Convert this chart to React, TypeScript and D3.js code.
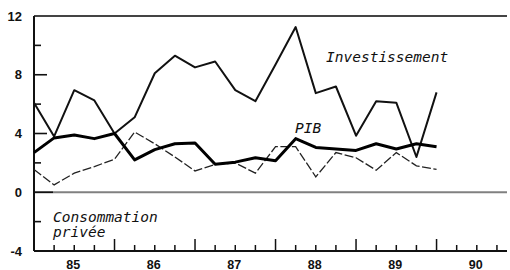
import React from "react";
import * as d3 from "d3";

const quarters: number[] = [
  1985, 1985.25, 1985.5, 1985.75, 1986, 1986.25, 1986.5, 1986.75,
  1987, 1987.25, 1987.5, 1987.75, 1988, 1988.25, 1988.5, 1988.75,
  1989, 1989.25, 1989.5, 1989.75, 1990,
];
const investissement: number[] = [
  6.1, 3.8, 6.95, 6.25, 4.0, 5.1, 8.1, 9.3, 8.5, 8.9, 6.95,
  6.2, 8.7, 11.25, 6.75, 7.2, 3.85, 6.2, 6.1, 2.4, 6.8,
];
const pib: number[] = [
  2.7, 3.7, 3.9, 3.65, 4.0, 2.2, 2.9, 3.3, 3.35, 1.9, 2.05,
  2.35, 2.15, 3.65, 3.05, 2.95, 2.85, 3.3, 2.95, 3.3, 3.1,
];
const consommation: number[] = [
  1.55, 0.5, 1.3, 1.75, 2.25, 4.1, 3.3, 2.4, 1.45, 1.9, 2.0,
  1.3, 3.1, 3.1, 1.05, 2.7, 2.35, 1.5, 2.7, 1.8, 1.55,
];
const yMajorTicks: number[] = [12, 8, 4, 0, -4];
const yMinorTicks: number[] = [10, 6, 2, -2];
const yearLabels: string[] = ["85", "86", "87", "88", "89", "90"];
const years: number[] = [1985, 1986, 1987, 1988, 1989, 1990];

export default function App() {
  const x = d3.scaleLinear().domain([1985, 1990.875]).range([34, 507]);
  const y = d3.scaleLinear().domain([-4, 12]).range([251, 16]);
  const line = (vals: number[]) =>
    d3
      .line<number>()
      .x((_, i) => x(quarters[i]))
      .y((v) => y(v))(vals) as string;

  const qTicks: number[] = d3.range(1985, 1990.876, 0.25);
  const mono = "'DejaVu Sans Mono', monospace";
  const sans = "'Liberation Sans', Arial, sans-serif";

  return (
    <svg
      width={510}
      height={270}
      style={{ position: "absolute", left: 0, top: 0, background: "#fff" }}
    >
      <line x1={x(1985)} x2={507} y1={y(0)} y2={y(0)} stroke="#808080" strokeWidth={2} />
      <line x1={x(1985)} x2={507} y1={y(12)} y2={y(12)} stroke="#444" strokeWidth={2} />
      <line x1={x(1985)} x2={x(1985)} y1={y(12)} y2={y(-4)} stroke="#111" strokeWidth={2} />
      <line x1={x(1985)} x2={507} y1={y(-4)} y2={y(-4)} stroke="#111" strokeWidth={2} />

      {yMajorTicks.map((t) => (
        <g key={"ym" + t}>
          {t !== 12 && t !== -4 && (
            <line x1={x(1985)} x2={x(1985) + (t === 0 ? 19 : 13)} y1={y(t)} y2={y(t)} stroke="#111" strokeWidth={1.6} />
          )}
          <text
            x={22}
            y={y(t)}
            dy="0.36em"
            textAnchor="end"
            fontFamily={sans}
            fontWeight="bold"
            fontSize={13}
            fill="#111"
          >
            {t === -4 ? "-4" : String(t)}
          </text>
        </g>
      ))}
      {yMinorTicks.map((t) => (
        <line key={"yn" + t} x1={x(1985)} x2={x(1985) + 7} y1={y(t)} y2={y(t)} stroke="#111" strokeWidth={1.6} />
      ))}

      {qTicks.map((q, i) => {
        const major = i % 4 === 0;
        return (
          <line
            key={"xt" + i}
            x1={x(q)}
            x2={x(q)}
            y1={y(-4)}
            y2={y(-4) - (major ? 12 : 6)}
            stroke="#111"
            strokeWidth={1.5}
          />
        );
      })}
      {years.map((yr, i) => (
        <text
          key={"yl" + yr}
          x={x(yr + 0.5) - 1}
          y={268.5}
          textAnchor="middle"
          fontFamily={sans}
          fontWeight="bold"
          fontSize={12.5}
          fill="#111"
        >
          {yearLabels[i]}
        </text>
      ))}

      <path d={line(consommation)} fill="none" stroke="#222" strokeWidth={1.3} strokeDasharray="9 2.5" />
      <path d={line(investissement)} fill="none" stroke="#111" strokeWidth={2} strokeLinejoin="round" />
      <path d={line(pib)} fill="none" stroke="#000" strokeWidth={3} strokeLinejoin="round" />

      <text x={326} y={62} fontFamily={mono} fontStyle="italic" fontSize={14.5} fill="#111">
        Investissement
      </text>
      <text x={295} y={133} fontFamily={mono} fontStyle="italic" fontSize={14.5} fill="#111">
        PIB
      </text>
      <text x={53} y={222} fontFamily={mono} fontStyle="italic" fontSize={14.5} fill="#111">
        Consommation
      </text>
      <text x={53} y={237} fontFamily={mono} fontStyle="italic" fontSize={14.5} fill="#111">
        privée
      </text>
    </svg>
  );
}
